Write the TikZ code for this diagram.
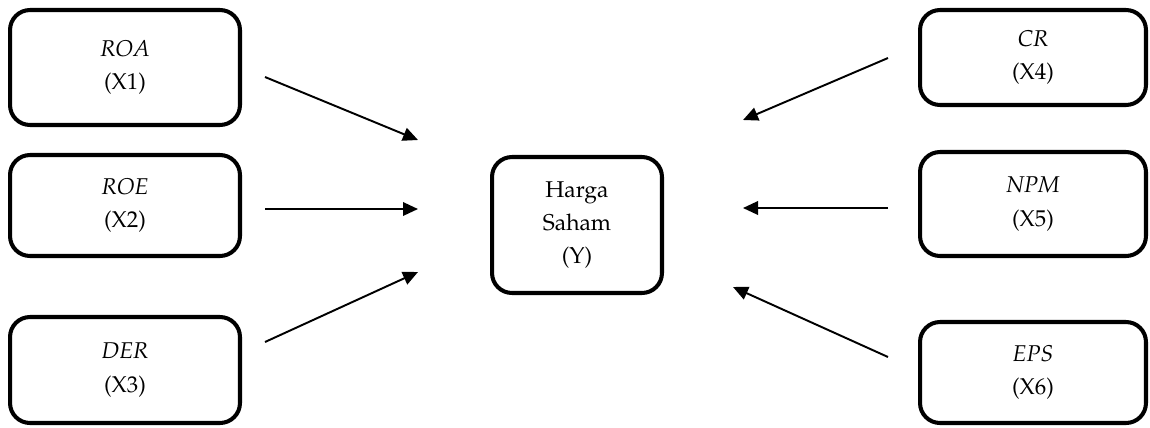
\documentclass[tikz,border=0pt]{standalone}
\usepackage[T1]{fontenc}
\usepackage{mathpazo}
\usepackage{tikz}
\usetikzlibrary{arrows.meta}

\begin{document}
\begin{tikzpicture}[
    x=0.02cm, y=-0.02cm,
    varbox/.style={draw, line width=2.3pt, rounded corners=0.4cm, align=center,
      inner sep=0pt, font=\fontsize{13}{19}\selectfont},
    kiri/.style={varbox, minimum width=4.6cm},
    kanan/.style={varbox, minimum width=4.52cm},
    panah/.style={line width=1.1pt, -{Triangle[length=0.3cm,width=0.27cm]}},
  ]
  \useasboundingbox (0,0) rectangle (1150,427);
  % variabel bebas
  \node[kiri, minimum height=2.3cm]  (roa) at (125,67.5) {\textit{ROA}\\(X1)};
  \node[kiri, minimum height=2.02cm] (roe) at (125,205.5) {\textit{ROE}\\(X2)};
  \node[kiri, minimum height=2.12cm] (der) at (125,370) {\textit{DER}\\(X3)};
  \node[kanan, minimum height=1.9cm]  (cr)  at (1033,57.5) {\textit{CR}\\(X4)};
  \node[kanan, minimum height=2.08cm] (npm) at (1033,204) {\textit{NPM}\\(X5)};
  \node[kanan, minimum height=2.02cm] (eps) at (1033,372.5) {\textit{EPS}\\(X6)};
  % variabel terikat
  \node[varbox, minimum width=3.4cm, minimum height=2.72cm] (harga) at (577,225)
    {Harga\\Saham\\(Y)};
  % ujung panah
  \coordinate (roa1) at (265,77);   \coordinate (roa2) at (418,140);
  \coordinate (roe1) at (265,209);  \coordinate (roe2) at (418,209);
  \coordinate (der1) at (265,342);  \coordinate (der2) at (418,272);
  \coordinate (cr1)  at (888,58);   \coordinate (cr2)  at (743,120);
  \coordinate (npm1) at (888,208);  \coordinate (npm2) at (743,208);
  \coordinate (eps1) at (888,357);  \coordinate (eps2) at (733,287);
  \foreach \v in {roa,roe,der,cr,npm,eps}
    \draw[panah] (\v1) -- (\v2);
\end{tikzpicture}
\end{document}
